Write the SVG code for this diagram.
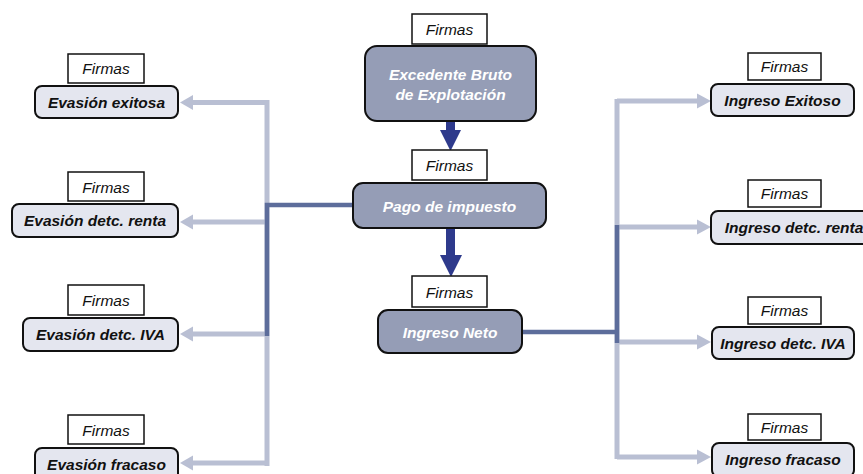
<svg xmlns="http://www.w3.org/2000/svg" width="863" height="474" viewBox="0 0 863 474">
<style>
.f{fill:#fff;stroke:#111;stroke-width:1.5}
.ft{font-family:"Liberation Sans",Arial,sans-serif;font-style:italic;font-size:15.5px;fill:#111;text-anchor:middle}
.m{fill:#959DB6;stroke:#111;stroke-width:2}
.mt{font-family:"Liberation Sans",Arial,sans-serif;font-style:italic;font-weight:bold;font-size:15.5px;fill:#fff;text-anchor:middle}
.s{fill:#E4E6EF;stroke:#111;stroke-width:2}
.st{font-family:"Liberation Sans",Arial,sans-serif;font-style:italic;font-weight:bold;font-size:15.5px;fill:#111;text-anchor:middle}
.lc{fill:none;stroke:#B9BFD3;stroke-width:5}
.dc{fill:none;stroke:#5D6D9B;stroke-width:4.5}
.lh{fill:#B9BFD3}
.ar{fill:#2E3A8C}
</style>
<g id="connectors">
<path class="lc" d="M267 100 V466"/>
<path class="lc" d="M267 102.5 H192 M267 222 H192 M267 334 H192 M267 463 H192"/>
<polygon class="lh" points="180,102.5 193,95 193,110"/>
<polygon class="lh" points="180,222 193,214.5 193,229.5"/>
<polygon class="lh" points="180,334 193,326.5 193,341.5"/>
<polygon class="lh" points="180,463 193,455.5 193,470.5"/>
<path class="dc" d="M353 205 H267 V336"/>
<path class="lc" d="M617 99 V459"/>
<path class="lc" d="M617 101 H698 M617 227 H698 M617 342 H698 M617 457 H698"/>
<polygon class="lh" points="711,101 697,93.5 697,108.5"/>
<polygon class="lh" points="711,227 697,219.5 697,234.5"/>
<polygon class="lh" points="711,342 697,334.5 697,349.5"/>
<polygon class="lh" points="711,457 697,449.5 697,464.5"/>
<path class="dc" d="M522 332 H617 M617 225 V343"/>
<rect class="ar" x="446" y="120" width="9" height="11"/>
<polygon class="ar" points="440,130 461,130 450.5,151"/>
<rect class="ar" x="446" y="228" width="9" height="28"/>
<polygon class="ar" points="440,255 462,255 451,277"/>
</g>
<g id="excedente">
<rect class="f" x="412" y="14" width="75" height="30"/>
<text class="ft" x="449.5" y="35">Firmas</text>
<rect class="m" x="365" y="46" width="171" height="75" rx="12"/>
<text class="mt" x="450.5" y="80">Excedente Bruto</text>
<text class="mt" x="450.5" y="99.5">de Explotación</text>
</g>
<g id="pago">
<rect class="f" x="412" y="150" width="75" height="30"/>
<text class="ft" x="449.5" y="171">Firmas</text>
<rect class="m" x="353" y="183" width="193" height="45" rx="10"/>
<text class="mt" x="449.5" y="211.5">Pago de impuesto</text>
</g>
<g id="ingreso-neto">
<rect class="f" x="412" y="276" width="75" height="31"/>
<text class="ft" x="449.5" y="297.5">Firmas</text>
<rect class="m" x="378" y="310" width="144" height="43" rx="10"/>
<text class="mt" x="450" y="338">Ingreso Neto</text>
</g>
<g id="evasion-exitosa">
<rect class="f" x="68" y="54" width="76" height="29"/>
<text class="ft" x="106" y="74">Firmas</text>
<rect class="s" x="35" y="86" width="143" height="32" rx="7"/>
<text class="st" x="106.5" y="107.5">Evasión exitosa</text>
</g>
<g id="evasion-renta">
<rect class="f" x="68" y="172" width="76" height="29"/>
<text class="ft" x="106" y="192.5">Firmas</text>
<rect class="s" x="12" y="204" width="166" height="33" rx="7"/>
<text class="st" x="95" y="226">Evasión detc. renta</text>
</g>
<g id="evasion-iva">
<rect class="f" x="68" y="285" width="76" height="30"/>
<text class="ft" x="106" y="305.5">Firmas</text>
<rect class="s" x="23" y="318" width="155" height="33" rx="7"/>
<text class="st" x="100.5" y="340">Evasión detc. IVA</text>
</g>
<g id="evasion-fracaso">
<rect class="f" x="68" y="415" width="76" height="29"/>
<text class="ft" x="106" y="435.5">Firmas</text>
<rect class="s" x="35" y="448" width="143" height="34" rx="7"/>
<text class="st" x="106.5" y="469.5">Evasión fracaso</text>
</g>
<g id="ingreso-exitoso">
<rect class="f" x="748" y="53" width="73" height="27"/>
<text class="ft" x="784.5" y="72">Firmas</text>
<rect class="s" x="711" y="84" width="143" height="32" rx="7"/>
<text class="st" x="782.5" y="105.5">Ingreso Exitoso</text>
</g>
<g id="ingreso-renta">
<rect class="f" x="748" y="180" width="73" height="27"/>
<text class="ft" x="784.5" y="199">Firmas</text>
<rect class="s" x="711" y="211" width="170" height="33" rx="7"/>
<text class="st" x="794" y="233">Ingreso detc. renta</text>
</g>
<g id="ingreso-iva">
<rect class="f" x="748" y="297" width="73" height="27"/>
<text class="ft" x="784.5" y="316">Firmas</text>
<rect class="s" x="712" y="327" width="142" height="32" rx="7"/>
<text class="st" x="783" y="348.5">Ingreso detc. IVA</text>
</g>
<g id="ingreso-fracaso">
<rect class="f" x="748" y="414" width="73" height="26"/>
<text class="ft" x="784.5" y="432.5">Firmas</text>
<rect class="s" x="712" y="443" width="142" height="34" rx="7"/>
<text class="st" x="783" y="465">Ingreso fracaso</text>
</g>
</svg>
